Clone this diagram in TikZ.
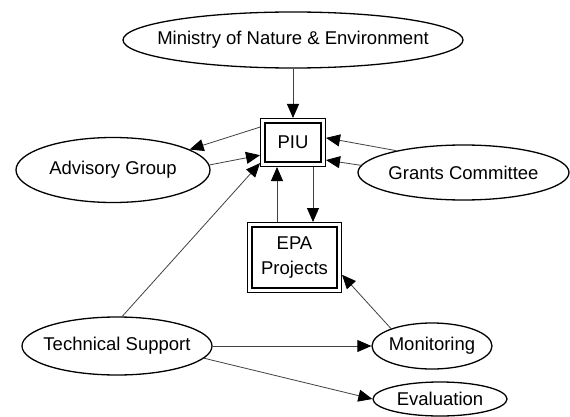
\documentclass[tikz,border=0pt]{standalone}
\usepackage{fontspec}
\setmainfont{Liberation Sans}
\usetikzlibrary{shapes.geometric,arrows.meta}

\begin{document}
\begin{tikzpicture}[x=1pt,y=-1pt,
    font=\fontsize{18.5}{25}\selectfont,
    oval/.style={draw, ellipse, line width=1.3pt, inner xsep=-40pt, inner ysep=0pt},
    box/.style={draw, double, double distance=3pt, line width=1.4pt, outer sep=2.9pt, inner sep=0pt, align=center},
    nyil/.style={draw=black!75, line width=0.8pt, -{Triangle[length=14pt,width=12pt,color=black]}}]
    \useasboundingbox (0,0) rectangle (570,417);

    % Ellipszisek
    \node[oval, minimum width=340pt, minimum height=56pt] (ministry) at (293,40) {Ministry of Nature \& Environment};
    \node[oval, minimum width=194pt, minimum height=65pt] (advisory) at (113,170) {Advisory Group};
    \node[oval, minimum width=211pt, minimum height=55pt] (grants) at (463.5,172.5) {Grants Committee};
    \node[oval, minimum width=190pt, minimum height=58pt] (tech) at (117,346) {Technical Support};
    \node[oval, minimum width=120pt, minimum height=46pt] (monitor) at (432,346) {Monitoring};
    \node[oval, minimum width=134pt, minimum height=34pt] (eval) at (440,399) {Evaluation};

    % Dobozok
    \node[box, minimum width=60.2pt, minimum height=43.2pt] (piu) at (293,142.5) {PIU};
    \node[box, minimum width=89.2pt, minimum height=65.2pt] (epa) at (294.5,257.5) {EPA\\Projects};

    % Nyilak
    \draw[nyil] (ministry.south) -- (piu.north);
    \draw[nyil] (piu.155) -- (advisory.15);
    \draw[nyil] (advisory.3) -- (piu.201);
    \draw[nyil] (tech.80) -- (piu.212);
    \draw[nyil] (grants.162) -- (piu.8);
    \draw[nyil] (grants.176) -- (piu.332);
    \draw[nyil] ([xshift=20pt]piu.south) -- ([xshift=20pt]piu.south |- epa.north);
    \draw[nyil] ([xshift=-16pt]piu.south |- epa.north) -- ([xshift=-16pt]piu.south);
    \draw[nyil] (monitor.157) -- (epa.340);
    \draw[nyil] (tech.east) -- (monitor.west);
    \draw[nyil] (tech.-8) -- (eval.west);
\end{tikzpicture}
\end{document}
